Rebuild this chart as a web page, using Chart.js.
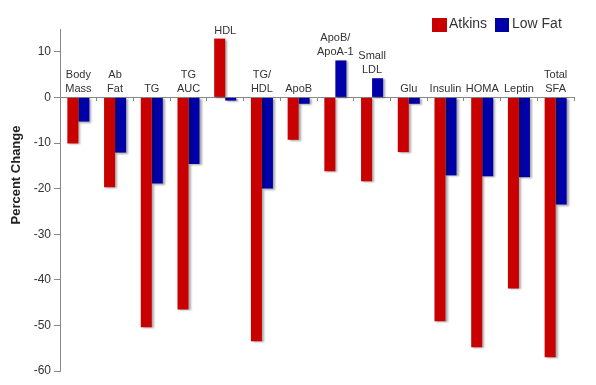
<!DOCTYPE html>
<html>
<head>
<meta charset="utf-8">
<script src="https://cdn.jsdelivr.net/npm/chart.js@4/dist/chart.umd.min.js"></script>
<style>
  html, body { margin: 0; padding: 0; background: #ffffff; }
  #wrap { width: 596px; height: 385px; position: relative; }
</style>
</head>
<body>
<div id="wrap"><canvas id="c" width="596" height="385"></canvas></div>
<script>
const categories = [
  ["Body", "Mass"], ["Ab", "Fat"], ["TG"], ["TG", "AUC"], ["HDL"], ["TG/", "HDL"],
  ["ApoB"], ["ApoB/", "ApoA-1"], ["Small", "LDL"], ["Glu"], ["Insulin"], ["HOMA"],
  ["Leptin"], ["Total", "SFA"]
];
const atkins = [-10.1, -19.7, -50.4, -46.5, 12.9, -53.5, -9.3, -16.2, -18.4, -12.0, -49.1, -54.8, -41.9, -57.0];
const lowFat = [-5.3, -12.1, -18.9, -14.6, -0.7, -20.0, -1.4, 8.1, 4.2, -1.4, -17.1, -17.3, -17.5, -23.5];
const seriesNames = ["Atkins", "Low Fat"];
const yTicks = [-60, -50, -40, -30, -20, -10, 0, 10];

const RED = '#c80000';
const BLUE = '#0000a8';
const FONT = '"Liberation Sans", Arial, sans-serif';

const shadowPlugin = {
  id: 'barShadow',
  beforeDatasetsDraw(chart) {
    const ctx = chart.ctx;
    ctx.save();
    ctx.shadowColor = 'rgba(0,0,0,0.35)';
    ctx.shadowBlur = 2;
    ctx.shadowOffsetX = 2;
    ctx.shadowOffsetY = 1;
  },
  afterDatasetsDraw(chart) {
    chart.ctx.restore();
  }
};

const labelPlugin = {
  id: 'catLabels',
  afterDraw(chart) {
    const ctx = chart.ctx;
    const x = chart.scales.x, y = chart.scales.y;
    ctx.save();
    ctx.fillStyle = '#333333';
    ctx.font = '11px ' + FONT;
    ctx.textAlign = 'center';
    ctx.textBaseline = 'middle';
    categories.forEach((lines, i) => {
      const top = Math.max(0, atkins[i], lowFat[i]);
      const cx = x.getPixelForValue(i);
      const base = y.getPixelForValue(top) - 8;
      for (let k = lines.length - 1, j = 0; k >= 0; k--, j++) {
        ctx.fillText(lines[k], cx, base - j * 14);
      }
    });
    // y axis title
    ctx.save();
    ctx.translate(16, 175);
    ctx.rotate(-Math.PI / 2);
    ctx.font = 'bold 13px ' + FONT;
    ctx.fillStyle = '#222222';
    ctx.fillText('Percent Change', 0, 0);
    ctx.restore();
    // legend
    ctx.font = '14px ' + FONT;
    ctx.textAlign = 'left';
    ctx.fillStyle = RED;
    ctx.fillRect(432, 18, 15, 14);
    ctx.fillStyle = BLUE;
    ctx.fillRect(495, 18, 14, 14);
    ctx.fillStyle = '#333333';
    ctx.fillText(seriesNames[0], 449, 24);
    ctx.fillText(seriesNames[1], 512, 24);
    ctx.restore();
  }
};

new Chart(document.getElementById('c'), {
  type: 'bar',
  data: {
    labels: categories.map(l => l.join(' ')),
    datasets: [
      { label: seriesNames[0], data: atkins, backgroundColor: RED, categoryPercentage: 0.6, barPercentage: 1.0 },
      { label: seriesNames[1], data: lowFat, backgroundColor: BLUE, categoryPercentage: 0.6, barPercentage: 1.0 }
    ]
  },
  options: {
    responsive: false,
    animation: false,
    devicePixelRatio: 1,
    layout: { padding: { top: 29, bottom: 14, left: 0, right: 22 } },
    plugins: { legend: { display: false }, tooltip: { enabled: false } },
    scales: {
      x: {
        position: { y: 0 },
        grid: { drawOnChartArea: false, tickLength: 3, color: '#888888', offset: true },
        border: { color: '#888888', width: 1 },
        ticks: { display: false }
      },
      y: {
        min: -60, max: 15,
        afterFit(scale) { scale.width = 60; },
        afterBuildTicks(scale) { scale.ticks = yTicks.map(v => ({ value: v })); },
        grid: { drawOnChartArea: false, tickLength: 6, color: '#888888' },
        border: { color: '#888888', width: 1 },
        ticks: { color: '#333333', font: { size: 12, family: FONT }, padding: 3 }
      }
    }
  },
  plugins: [shadowPlugin, labelPlugin]
});
</script>
</body>
</html>
